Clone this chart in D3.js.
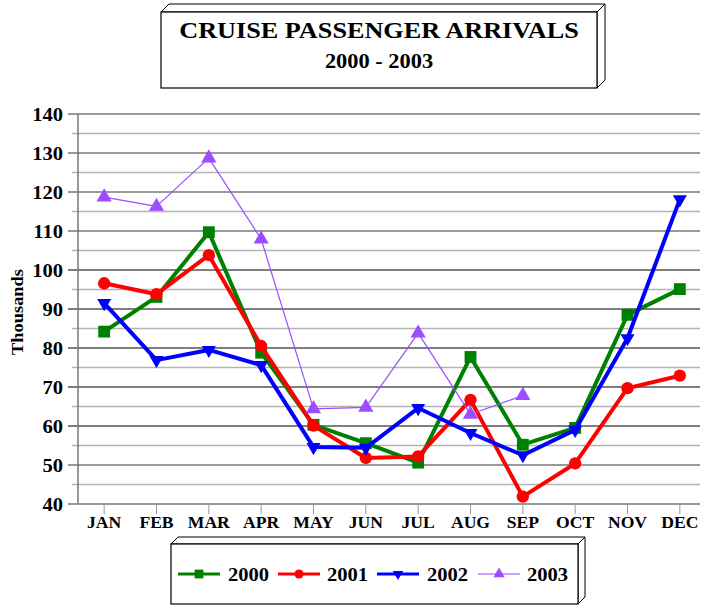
<!DOCTYPE html>
<html>
<head>
<meta charset="utf-8">
<script src="https://cdn.jsdelivr.net/npm/d3@7"></script>
<style>
  body { margin: 0; background: #fff; }
  svg { display: block; font-family: "Liberation Serif", "DejaVu Serif", serif; }
</style>
</head>
<body>
<svg id="chart" width="703" height="607"></svg>
<script>
const months = ['JAN','FEB','MAR','APR','MAY','JUN','JUL','AUG','SEP','OCT','NOV','DEC'];
const yTicks = [40, 50, 60, 70, 80, 90, 100, 110, 120, 130, 140];
const s2000 = [84.2, 93.1, 109.7, 78.8, 60.3, 55.6, 50.6, 77.7, 55.2, 59.5, 88.5, 95.1];
const s2001 = [96.6, 93.8, 103.8, 80.5, 60.1, 51.8, 52.2, 66.7, 41.9, 50.4, 69.7, 72.9];
const s2002 = [91.5, 76.9, 79.5, 75.6, 54.6, 54.4, 64.6, 58.2, 52.5, 59.0, 82.5, 118.1];
const s2003 = [118.7, 116.3, 128.7, 107.9, 64.4, 64.8, 83.8, 63.0, 67.8, null, null, null];
const seriesNames = ['2000', '2001', '2002', '2003'];

const series = [
  { name: seriesNames[0], values: s2000, color: '#008000', width: 4, sym: 'square' },
  { name: seriesNames[1], values: s2001, color: '#ff0000', width: 4, sym: 'circle' },
  { name: seriesNames[2], values: s2002, color: '#0000ff', width: 4, sym: 'down' },
  { name: seriesNames[3], values: s2003, color: '#9b4dff', width: 1.2, sym: 'up' }
];

const svg = d3.select('#chart');
const plotLeft = 78, plotTop = 114, plotBottom = 504, plotRight = 706;

const x = d3.scaleBand().domain(months).range([plotLeft, plotRight]);
const y = d3.scaleLinear().domain([40, 140]).range([plotBottom, plotTop]);

// the source text is a bit wider than our serif, so stretch it horizontally
function wideText(g, tx, ty, str, size, sx, anchor) {
  return g.append('text')
    .attr('transform', `translate(${tx},${ty}) scale(${sx},1)`)
    .attr('text-anchor', anchor || 'middle')
    .attr('font-size', size).attr('font-weight', 'bold')
    .text(str);
}

// 3d box helper
function box3d(g, x0, y0, w, h, d) {
  g.append('path')
    .attr('d', `M${x0},${y0} L${x0 + d},${y0 - d} L${x0 + w + d},${y0 - d} L${x0 + w},${y0} Z`)
    .attr('fill', '#fff').attr('stroke', '#000').attr('stroke-width', 1);
  g.append('path')
    .attr('d', `M${x0 + w},${y0} L${x0 + w + d},${y0 - d} L${x0 + w + d},${y0 + h - d} L${x0 + w},${y0 + h} Z`)
    .attr('fill', '#fff').attr('stroke', '#000').attr('stroke-width', 1);
  g.append('rect')
    .attr('x', x0).attr('y', y0).attr('width', w).attr('height', h)
    .attr('fill', '#fff').attr('stroke', '#000').attr('stroke-width', 1.2);
}

// title
const tg = svg.append('g');
box3d(tg, 161, 12, 436, 76, 8);
wideText(tg, 379, 38, 'CRUISE PASSENGER ARRIVALS', 23, 1.14);
wideText(tg, 379, 68, '2000 - 2003', 20, 1.12);

// grid lines
const minor = d3.range(45, 140, 10);
svg.append('g').selectAll('line').data(minor).enter().append('line')
  .attr('x1', 72).attr('x2', 700)
  .attr('y1', d => y(d)).attr('y2', d => y(d))
  .attr('stroke', '#b4b4b4').attr('stroke-width', 1.5);
svg.append('g').selectAll('line').data(yTicks).enter().append('line')
  .attr('x1', 68).attr('x2', 700)
  .attr('y1', d => y(d)).attr('y2', d => y(d))
  .attr('stroke', d => (d >= 60 && d <= 100) ? '#000' : '#777')
  .attr('stroke-width', d => (d >= 60 && d <= 100) ? 1.1 : 1.5);

// axes lines
svg.append('line').attr('x1', plotLeft).attr('x2', plotLeft).attr('y1', plotTop).attr('y2', plotBottom)
  .attr('stroke', '#777').attr('stroke-width', 1.5);
svg.append('line').attr('x1', plotLeft).attr('x2', 700).attr('y1', plotBottom).attr('y2', plotBottom)
  .attr('stroke', '#999').attr('stroke-width', 1.5);

// y labels
const yl = svg.append('g');
yTicks.forEach(d => {
  wideText(yl, 63, y(d), d, 18.7, 1.1, 'end').attr('dy', '0.36em');
});

// x ticks and labels
const xg = svg.append('g');
xg.selectAll('line').data(months).enter().append('line')
  .attr('x1', d => x(d) + x.bandwidth() / 2).attr('x2', d => x(d) + x.bandwidth() / 2)
  .attr('y1', plotBottom).attr('y2', plotBottom + 10)
  .attr('stroke', '#999').attr('stroke-width', 1);
xg.selectAll('text').data(months).enter().append('text')
  .attr('x', d => x(d) + x.bandwidth() / 2).attr('y', 528)
  .attr('text-anchor', 'middle').attr('font-size', 17.6).attr('font-weight', 'bold')
  .text(d => d);

// y axis title
svg.append('text').attr('transform', 'translate(23,312) rotate(-90) scale(1.15,1)')
  .attr('text-anchor', 'middle').attr('font-size', 16).attr('font-weight', 'bold')
  .text('Thousands');

function symbolPath(sym, scale) {
  if (sym === 'square') return d3.symbol(d3.symbolSquare, 140 * scale)();
  if (sym === 'circle') return d3.symbol(d3.symbolCircle, 120 * scale)();
  if (sym === 'up') return d3.symbol(d3.symbolTriangle, 100 * scale)();
  return d3.symbol(d3.symbolTriangle, 85 * scale)();
}

const cx = i => x(months[i]) + x.bandwidth() / 2;
const line = d3.line()
  .defined(d => d != null)
  .x((d, i) => cx(i))
  .y(d => y(d));

series.forEach(s => {
  const g = svg.append('g');
  g.append('path').datum(s.values).attr('d', line)
    .attr('fill', 'none').attr('stroke', s.color).attr('stroke-width', s.width)
    .attr('stroke-linejoin', 'round');
  g.selectAll('path.m').data(s.values.map((v, i) => ({ v, i })).filter(d => d.v != null))
    .enter().append('path').attr('class', 'm')
    .attr('d', symbolPath(s.sym, 1))
    .attr('transform', d => `translate(${cx(d.i)},${y(d.v)})` + (s.sym === 'down' ? ' rotate(180)' : ''))
    .attr('fill', s.color);
});

// legend
const lg = svg.append('g');
box3d(lg, 171, 544, 407, 60, 7);
const legX = [178, 278, 377, 478];
const legTX = [228, 327, 427, 527];
series.forEach((s, k) => {
  const ly = 574;
  lg.append('line').attr('x1', legX[k]).attr('x2', legX[k] + 42).attr('y1', ly).attr('y2', ly)
    .attr('stroke', s.color).attr('stroke-width', s.width === 4 ? 3 : 1.5)
    .attr('opacity', s.sym === 'up' ? 0.7 : 1);
  lg.append('path').attr('d', symbolPath(s.sym, 0.55))
    .attr('transform', `translate(${legX[k] + 21},${ly})` + (s.sym === 'down' ? ' rotate(180)' : ''))
    .attr('fill', s.color);
  wideText(lg, legTX[k], ly, s.name, 18.7, 1.1, 'start').attr('dy', '0.35em');
});
</script>
</body>
</html>
